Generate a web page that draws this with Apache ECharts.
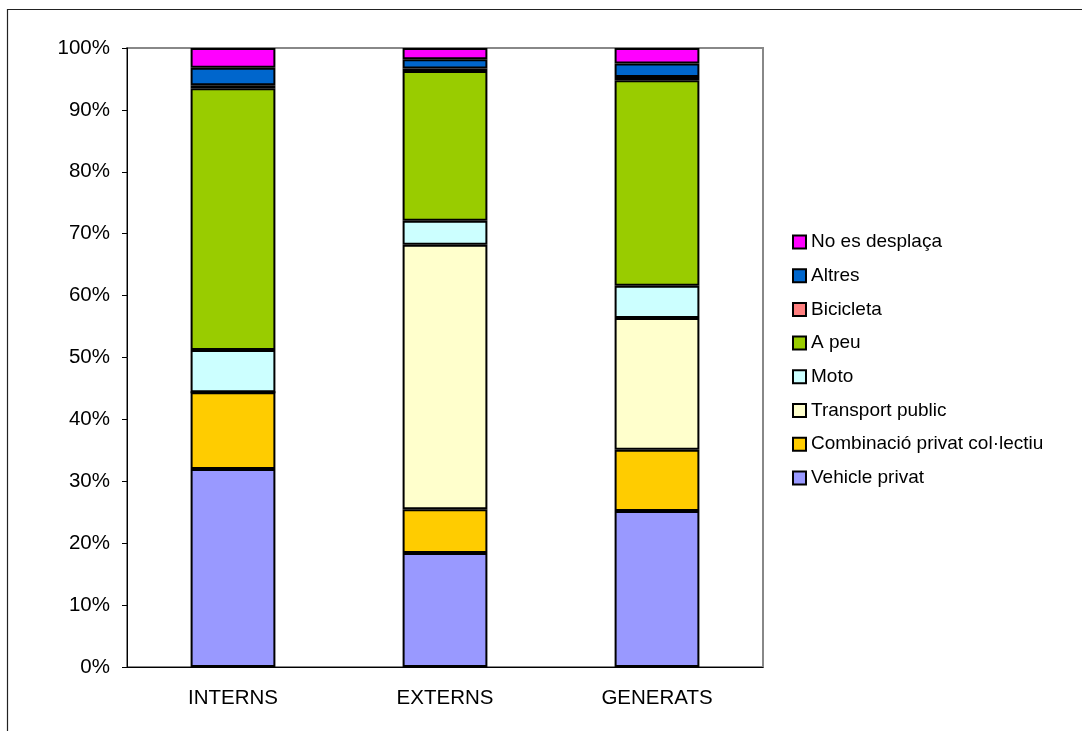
<!DOCTYPE html>
<html lang="ca">
<head>
    <meta charset="UTF-8">
    <title>Repartiment modal</title>
    <script src="https://cdn.jsdelivr.net/npm/echarts@6/dist/echarts.min.js"></script>
    <style>
        html, body { margin: 0; padding: 0; background: #fff; }
        #main { width: 1082px; height: 731px; }
    </style>
</head>
<body>
    <div id="main"></div>
    <script>
        // categories (x axis)
        var categories = ['INTERNS', 'EXTERNS', 'GENERATS'];
        var yTicks = ['0%', '10%', '20%', '30%', '40%', '50%', '60%', '70%', '80%', '90%', '100%'];

        // percent values per mode, in stack order (bottom -> top)
        var vehiclePrivat   = [32.0, 18.4, 25.2];
        var combinacio      = [12.4,  7.1,  9.9];
        var transportPublic = [ 0.0, 42.7, 21.3];
        var moto            = [ 6.8,  3.9,  5.2];
        var aPeu            = [42.3, 24.2, 33.2];
        var bicicleta       = [ 0.5,  0.4,  0.5];
        var altres          = [ 2.8,  1.5,  2.2];
        var noEsDesplaca    = [ 3.2,  1.8,  2.5];

        var names = ['Vehicle privat', 'Combinació privat col·lectiu', 'Transport public', 'Moto',
                     'A peu', 'Bicicleta', 'Altres', 'No es desplaça'];
        var colors = ['#9999FF', '#FFCC00', '#FFFFCC', '#CCFFFF', '#99CC00', '#FF8080', '#0066CC', '#FF00FF'];
        var values = [vehiclePrivat, combinacio, transportPublic, moto, aPeu, bicicleta, altres, noEsDesplaca];

        var font = 'Liberation Sans, Arial, sans-serif';

        var series = [];
        for (var i = 0; i < names.length; i++) {
            series.push({
                name: names[i],
                type: 'bar',
                stack: 'total',
                barWidth: '40%',
                data: values[i],
                itemStyle: { color: colors[i], borderColor: '#000', borderWidth: 2 }
            });
        }

        var myChart = echarts.init(document.getElementById('main'));
        var option = {
            animation: false,
            backgroundColor: '#fff',
            graphic: [{
                type: 'rect',
                shape: { x: 7.5, y: 9.5, width: 1100, height: 740 },
                style: { fill: 'none', stroke: '#222', lineWidth: 1.2 },
                silent: true
            }],
            grid: {
                left: 127, right: 319, top: 48, bottom: 64,
                show: true, borderColor: '#888', borderWidth: 2, backgroundColor: 'transparent'
            },
            legend: {
                orient: 'vertical',
                left: 787, top: 227,
                itemWidth: 13, itemHeight: 13, itemGap: 13.7, itemTextGap: 7,
                icon: 'rect',
                data: names.slice().reverse(),
                textStyle: { fontFamily: font, fontSize: 19, lineHeight: 20, color: '#000' }
            },
            xAxis: {
                type: 'category',
                data: categories,
                axisLine: { lineStyle: { color: '#000', width: 1 } },
                axisTick: { length: 6, lineStyle: { color: '#000' } },
                axisLabel: { margin: 21, fontFamily: font, fontSize: 20.5, color: '#000' }
            },
            yAxis: {
                type: 'value',
                min: 0, max: 100, interval: 10,
                axisLine: { show: true, lineStyle: { color: '#000', width: 1 } },
                axisTick: { show: true, length: 5, lineStyle: { color: '#000' } },
                splitLine: { show: false },
                axisLabel: {
                    margin: 17, fontFamily: font, fontSize: 20.5, color: '#000',
                    formatter: function (v) { return yTicks[Math.round(v / 10)]; }
                }
            },
            series: series
        };
        myChart.setOption(option);
    </script>
</body>
</html>
